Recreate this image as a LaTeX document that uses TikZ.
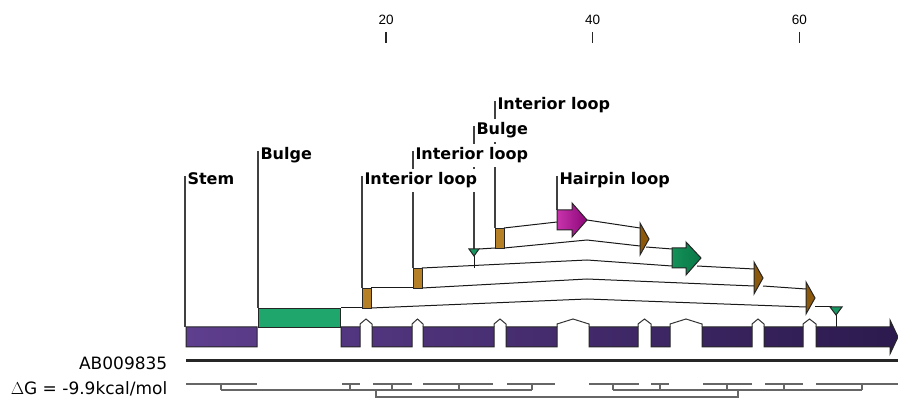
\documentclass[tikz,border=0pt]{standalone}
\usepackage{fontspec}
\setmainfont{DejaVu Sans}
\newfontfamily\rulerfont{Liberation Sans}

\definecolor{helixL}{RGB}{94,62,142}
\definecolor{helixR}{RGB}{44,26,78}
\definecolor{bulgeGreen}{RGB}{30,166,108}
\definecolor{triGreen}{RGB}{22,150,96}
\definecolor{loopBrown}{RGB}{182,128,38}
\definecolor{markBrown}{RGB}{140,88,12}
\definecolor{hairpinL}{RGB}{200,52,172}
\definecolor{hairpinR}{RGB}{140,6,120}
\definecolor{arrowGreenL}{RGB}{20,146,88}
\definecolor{arrowGreenR}{RGB}{8,118,70}

\begin{document}
\begin{tikzpicture}[x=1pt, y=-1pt,
    helix/.style={left color=helixL, right color=helixR, draw=black!85, line width=1pt},
    hinge/.style={draw=black!80, line width=1pt},
    strand/.style={draw=black!90, line width=1pt},
    guide/.style={draw=black!75, line width=1.1pt},
    loopbox/.style={draw=black!85, fill=loopBrown, line width=1pt, minimum width=9pt,
                    minimum height=20pt, inner sep=0pt, anchor=north west},
    bulgebox/.style={draw=black!85, fill=bulgeGreen, line width=1pt, minimum width=82pt,
                     minimum height=19pt, inner sep=0pt, anchor=north west},
    marker/.style={draw=black!85, fill=markBrown, line width=1pt},
    bulgetri/.style={draw=black!85, fill=triGreen, line width=1pt},
    lbl/.style={font=\bfseries\fontsize{16}{19}\selectfont, fill=white, inner xsep=1.3pt,
                inner ysep=4pt, anchor=base west},
    pair/.style={draw=black!60, line width=1.2pt},
    seqname/.style={font=\fontsize{17}{20}\selectfont, inner sep=0pt, anchor=base east}
]
    \useasboundingbox (0,0) rectangle (898,398);

    % ruler
    \foreach \n in {20,40,60} {
        \node[font=\rulerfont\fontsize{13.5}{15}\selectfont, anchor=base, inner sep=0pt]
            (r\n) at ({179.5+10.33*\n},25) {\n};
        \draw[line width=1.4pt, black!85] ({179.5+10.33*\n},32) -- ({179.5+10.33*\n},43);
    }

    % loop elements on the left strand
    \node[bulgebox] (bg1) at (258,308) {};
    \coordinate (tri1) at (474,256);
    \coordinate (tri2) at (836,315);

    % strands
    \draw[strand] (bg1.north east) -- (362,308);
    \draw[strand] (371,308) -- (587,299) -- (806,307);
    \draw[strand] (815,307) -- (832,307);
    \draw[strand] (371,288) -- (413,288);
    \draw[strand] (422,288) -- (587,279) -- (754,286);
    \draw[strand] (763,286) -- (806,289);
    \draw[strand] (422,268) -- (587,260) -- (672,266);
    \draw[strand] (697,266) -- (754,269);
    \draw[strand] (tri1) -- (474,268);
    \draw[strand] (479,249) -- (495,248);
    \draw[strand] (504,248) -- (587,240) -- (640,246);
    \draw[strand] (646,247) -- (672,249);
    \draw[strand] (504,228) -- (557,222);
    \draw[strand] (587,220) -- (640,228);
    \draw[strand] (tri2) -- (836,327);

    % label guides
    \draw[guide] (185,176) -- (185,327);
    \draw[guide] (258,151) -- (bg1.north west);
    \draw[guide] (362,176) -- (362,288);
    \draw[guide] (413,151) -- (413,268);
    \draw[guide] (474,126) -- (474,249);
    \draw[guide] (495,101) -- (495,228);
    \draw[guide] (557,176) -- (557,210);

    \node[loopbox] (il1) at (362,288) {};
    \node[loopbox] (il2) at (413,268) {};
    \node[loopbox] (il3) at (495,228) {};

    \filldraw[bulgetri] (469,249) -- (479,249) -- (tri1) -- cycle;
    \filldraw[bulgetri] (830,307) -- (842,307) -- (tri2) -- cycle;

    % hairpin and right-hand arrows
    \shadedraw[left color=hairpinL, right color=hairpinR, draw=black!85, line width=1pt]
        (557,210) -- (572,210) -- (572,203) -- (587,220) -- (572,237) -- (572,230) -- (557,230) -- cycle;
    \shadedraw[left color=arrowGreenL, right color=arrowGreenR, draw=black!85, line width=1pt]
        (672,248) -- (686,248) -- (686,242) -- (701,258) -- (686,275) -- (686,268) -- (672,268) -- cycle;
    \foreach \x/\y in {640/239, 754/278, 806/298}
        \filldraw[marker] (\x,\y-16) -- (\x+9,\y) -- (\x,\y+16) -- cycle;

    % labels
    \node[lbl] (l4) at (496,110) {Interior loop};
    \node[lbl] (l3) at (475,135) {Bulge};
    \node[lbl] (l2a) at (259,160) {Bulge};
    \node[lbl] (l2b) at (414,160) {Interior loop};
    \node[lbl] (l1a) at (186,185) {Stem};
    \node[lbl] (l1b) at (363,185) {Interior loop};
    \node[lbl] (l1c) at (558,185) {Hairpin loop};

    % helix track
    \shadedraw[helix]
        \foreach \a/\b in {186/257, 341/360, 372/412, 423/494, 506/557, 589/638, 651/670, 702/752, 764/803}
            {(\a,327) rectangle (\b,347)}
        (816,327) -- (890,327) -- (890,320) -- (898,337) -- (890,354) -- (890,347) -- (816,347) -- cycle;
    \foreach \a/\b in {360/372, 412/423, 494/506, 557/589, 638/651, 670/702, 752/764, 803/816}
        \draw[hinge] (\a,327) -- (\a,324) -- ({(\a+\b)/2},319) -- (\b,324) -- (\b,327);

    % sequence
    \draw[line width=3pt, black!85] (186,361) -- (898,361);
    \node[seqname] (seq) at (167.5,369.5) {AB009835};
    \node[seqname] (dg) at (167.5,394.5) {$\Delta$G = -9.9kcal/mol};

    % pairing brackets
    \foreach \a/\b in {186/257, 342/360, 373/412, 423/493, 507/555, 589/639, 651/669, 703/752, 765/803, 816/898}
        \draw[pair] (\a,384) -- (\b,384);
    \foreach \x in {221,350,392,459,532,613,660,727,784,862}
        \draw[pair] (\x,384) -- (\x,390);
    \draw[pair] (221,390) -- (532,390);
    \draw[pair] (613,390) -- (862,390);
    \draw[pair] (376,390) -- (376,397) -- (738,397) -- (738,390);
\end{tikzpicture}
\end{document}
